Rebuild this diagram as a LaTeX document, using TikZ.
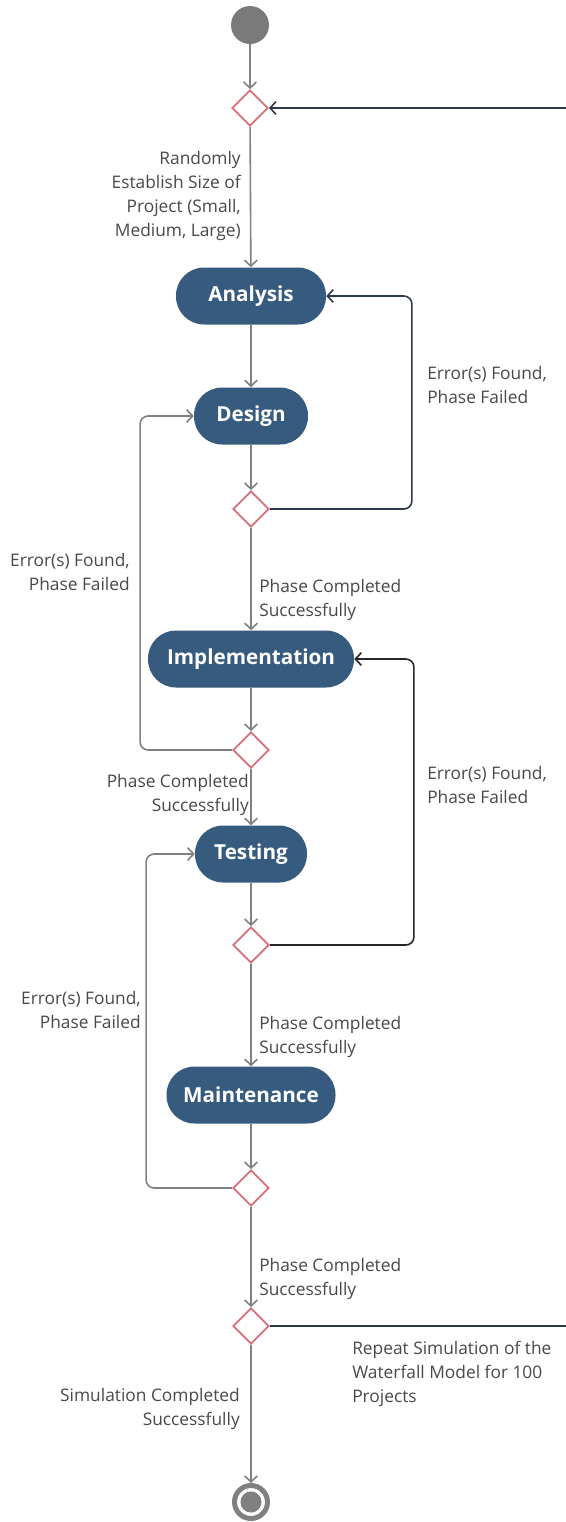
\documentclass[tikz,border=0pt]{standalone}
\usepackage{fontspec}
\setmainfont{Open Sans}
\usetikzlibrary{arrows.meta,shapes.geometric,calc}

\definecolor{stateblue}{RGB}{54,91,126}
\definecolor{flowgray}{RGB}{128,128,128}
\definecolor{startgray}{RGB}{122,122,122}
\definecolor{loopnavy}{RGB}{45,58,78}
\definecolor{choicered}{RGB}{214,110,120}
\definecolor{labelgray}{RGB}{72,72,72}

\tikzset{
  state/.style={rectangle, fill=stateblue, text=white, rounded corners=21pt,
    minimum height=42.75pt, inner sep=0pt, font=\fontsize{15.5}{18}\selectfont\bfseries},
  choice/.style={diamond, draw=choicered, fill=white, line width=1.35pt,
    minimum size=27pt, inner sep=0pt},
  startstate/.style={circle, fill=startgray, minimum size=28.5pt, inner sep=0pt},
  stopstate/.style={circle, draw=flowgray, line width=3.75pt, fill=white,
    minimum size=24.75pt, inner sep=0pt,
    path picture={\fill[flowgray] (path picture bounding box.center) circle (7.9pt);}},
  flow/.style={draw=flowgray, line width=1.2pt, -{Straight Barb[length=4.5pt,width=9.5pt]}},
  backflow/.style={flow, rounded corners=6pt},
  guard/.style={text=labelgray, inner sep=0pt, font=\fontsize{13}{18}\selectfont}
}

\begin{document}
\begin{tikzpicture}[x=0.75pt,y=-0.75pt]
  \useasboundingbox (0,0) rectangle (565,1522);

  \node[startstate] (start) at (250,25) {};
  \node[choice] (pick) at (250,108) {};
  \node[state, minimum width=112.5pt] (analysis) at (251,296) {Analysis};
  \node[state, minimum width=85.5pt] (design) at (251,416) {Design};
  \node[choice] (check1) at (251,509) {};
  \node[state, minimum width=154.5pt] (implementation) at (251,659) {Implementation};
  \node[choice] (check2) at (251,750) {};
  \node[state, minimum width=84pt] (testing) at (251,854) {Testing};
  \node[choice] (check3) at (251,945) {};
  \node[state, minimum width=126.75pt] (maintenance) at (251,1095) {Maintenance};
  \node[choice] (check4) at (251,1188) {};
  \node[choice] (repeat) at (251,1326) {};
  \node[stopstate] (stop) at (251,1502) {};

  \node[guard, align=right, anchor=east] (sizetext) at (241,196)
    {Randomly\\Establish Size of\\Project (Small,\\Medium, Large)};
  \node[guard, align=left, anchor=west] (fail1) at (427,385) {Error(s) Found,\\Phase Failed};
  \node[guard, align=right, anchor=east] (fail2) at (130,572) {Error(s) Found,\\Phase Failed};
  \node[guard, align=left, anchor=west] (pass1) at (259,600) {Phase Completed\\Successfully};
  \node[guard, align=right, anchor=east] (pass2) at (249,795) {Phase Completed\\Successfully};
  \node[guard, align=left, anchor=west] (fail3) at (427,785) {Error(s) Found,\\Phase Failed};
  \node[guard, align=right, anchor=east] (fail4) at (141,1010) {Error(s) Found,\\Phase Failed};
  \node[guard, align=left, anchor=west] (pass3) at (259,1037) {Phase Completed\\Successfully};
  \node[guard, align=left, anchor=west] (pass4) at (259,1279) {Phase Completed\\Successfully};
  \node[guard, align=left, anchor=west] (again) at (352,1374)
    {Repeat Simulation of the\\Waterfall Model for 100\\Projects};
  \node[guard, align=right, anchor=east] (finished) at (240,1409)
    {Simulation Completed\\Successfully};

  % main line
  \draw[flow] (start) -- (pick);
  \draw[flow] (pick) -- (analysis);
  \draw[flow] (analysis) -- (design);
  \draw[flow] (design) -- (check1);
  \draw[flow] (check1) -- (implementation);
  \draw[flow] (implementation) -- (check2);
  \draw[flow] (check2) -- (testing);
  \draw[flow] (testing) -- (check3);
  \draw[flow] (check3) -- (maintenance);
  \draw[flow] (maintenance) -- (check4);
  \draw[flow] (check4) -- (repeat);
  \draw[flow] (repeat) -- (stop);

  % loops back
  \draw[backflow, draw=loopnavy] (check1.east) -- ++(142,0) |- (analysis.east);
  \draw[backflow] (check2.west) -- ++(-92,0) |- (design.west);
  \draw[backflow, draw=black!85] (check3.east) -- ++(144,0) |- (implementation.east);
  \draw[backflow] (check4.west) -- ++(-86,0) |- (testing.west);
  \draw[backflow, draw=loopnavy] (repeat.east) -- ++(320,0) |- (pick.east);

\end{tikzpicture}
\end{document}
